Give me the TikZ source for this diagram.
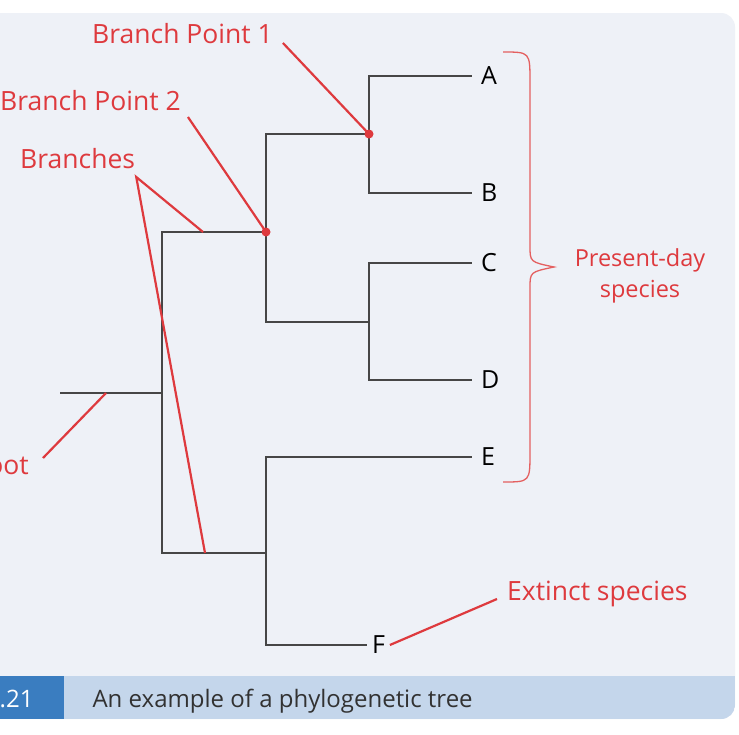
\documentclass[tikz,border=0pt]{standalone}
\usepackage{fontspec}
\setmainfont{Open Sans}
\usetikzlibrary{positioning}
\definecolor{panelgray}{RGB}{238,241,247}
\definecolor{capblue}{RGB}{196,214,235}
\definecolor{numblue}{RGB}{58,125,192}
\definecolor{annored}{RGB}{222,58,62}
\definecolor{bracered}{RGB}{228,96,96}
\definecolor{treegray}{RGB}{70,70,70}
\definecolor{captext}{RGB}{50,50,50}
\tikzset{branch/.style={draw=treegray, line width=2.4pt},
pointer/.style={draw=annored, line width=2.2pt},
leaf/.style={anchor=west, inner xsep=9pt, inner ysep=0pt, outer sep=0pt, text=black, font=\fontsize{25}{30}\selectfont},
note/.style={text=annored, inner sep=2pt, font=\fontsize{26.5}{31}\selectfont},
bpoint/.style={circle, fill=annored, inner sep=0pt, minimum size=9pt},
}

\begin{document}
\begin{tikzpicture}[x=1pt, y=-1pt]
            \useasboundingbox (0,0) rectangle (739,734);
            \clip (0,0) rectangle (739,734);
            \fill[white] (0,0) rectangle (739,734);
            \fill[panelgray, rounded corners=14pt] (-30,13) rectangle (735,719);
            \begin{scope}
                \clip[rounded corners=14pt] (-30,13) rectangle (735,719);
                \fill[capblue] (-30,676) rectangle (735,719);
                \fill[numblue] (-30,676) rectangle (64,719);
            \end{scope}
            \node[anchor=base east, text=white, font=\fontsize{24}{28}\selectfont] (fignum) at (37,707) {3.21};
            \node[anchor=base west, text=captext, font=\fontsize{24}{28}\selectfont] (caption) at (89,707) {An example of a phylogenetic tree};

            % tree
            \coordinate (r0) at (60,393);
            \coordinate (n0) at (162,393);
            \coordinate (n2) at (266,232);
            \coordinate (n1) at (369,134);
            \coordinate (n3) at (369,322);
            \coordinate (n4) at (266,553);
            \node[leaf] (A) at (472,76) {A};
            \node[leaf] (B) at (472,193) {B};
            \node[leaf] (C) at (472,263) {C};
            \node[leaf] (D) at (472,380) {D};
            \node[leaf] (E) at (472,457) {E};
            \node[leaf, inner xsep=5pt] (F) at (367,645) {F};

            \draw[branch] (r0) -- (n0);
            \draw[branch] (n0) |- (n2);
            \draw[branch] (n0) |- (n4);
            \draw[branch] (n2) |- (n1);
            \draw[branch] (n2) |- (n3);
            \draw[branch] (n1) |- (A.west);
            \draw[branch] (n1) |- (B.west);
            \draw[branch] (n3) |- (C.west);
            \draw[branch] (n3) |- (D.west);
            \draw[branch] (n4) |- (E.west);
            \draw[branch] (n4) |- (F.west);
            \node[bpoint] (dot1) at (n1) {};
            \node[bpoint] (dot2) at (n2) {};

            % labels
            \node[note, anchor=base west] (lbp1) at (90,43) {Branch Point 1};
            \node[note, anchor=base west] (lbp2) at (-2,110) {Branch Point 2};
            \node[note, anchor=base west] (lbr) at (18,168) {Branches};
            \node[note, anchor=base east] (lroot) at (31,474) {Root};
            \node[note, anchor=base west] (lext) at (505,600) {Extinct species};
            \node[note, anchor=north, align=center, font=\fontsize{23.5}{31}\selectfont] (lpres) at (640,246) {Present-day\\species};

            \coordinate (p1) at ([xshift=8pt]lbp1.base east);
            \coordinate (p2) at ([shift={(5pt,-7pt)}]lbp2.base east);
            \coordinate (bfork) at ([shift={(-1pt,-9pt)}]lbr.base east);
            \coordinate (proot) at ([shift={(12pt,16pt)}]lroot.base east);
            \coordinate (pext) at ([shift={(-8pt,1pt)}]lext.base west);
            \coordinate (b1) at (203,232);
            \coordinate (b2) at (205,553);
            \coordinate (rt) at (106,393);

            \draw[pointer] (p1) -- (dot1.center)
                (p2) -- (dot2.center)
                (b1) -- (bfork) -- (b2)
                (proot) -- (rt)
                (pext) -- (F.east);

            % brace
            \coordinate (bt) at (503,52);
            \coordinate (bb) at (503,482);
            \coordinate (btip) at (554,267);
            \draw[bracered, line width=1.3pt] (bt) .. controls (530,52) .. (530,82) -- (530,246)
                .. controls (530,262) .. (btip) .. controls (530,272) .. (530,288) -- (530,452)
                .. controls (530,482) .. (bb);
        \end{tikzpicture}
\end{document}
